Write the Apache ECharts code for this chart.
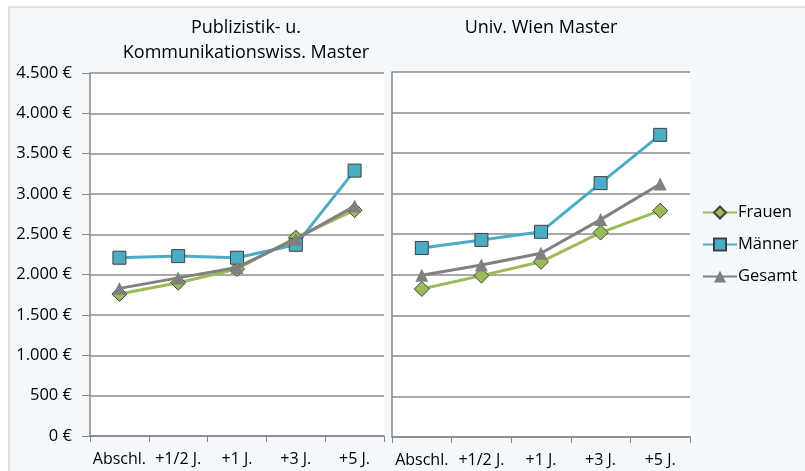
<!DOCTYPE html>
<html>
<head>
<meta charset="utf-8">
<script src="https://cdn.jsdelivr.net/npm/echarts@6/dist/echarts.min.js"></script>
<style>
  html, body { margin: 0; padding: 0; background: #fff; }
  #main { width: 805px; height: 471px; }
</style>
</head>
<body>
<div id="main"></div>
<script>
const categories = ['Abschl.', '+1/2 J.', '+1 J.', '+3 J.', '+5 J.']
const panelTitles = ['Publizistik- u.\nKommunikationswiss. Master', 'Univ. Wien Master']

// Publizistik- u. Kommunikationswiss. Master
const pkwFrauen = [1760, 1900, 2070, 2460, 2800]
const pkwMaenner = [2210, 2230, 2210, 2370, 3290]
const pkwGesamt = [1830, 1960, 2090, 2440, 2850]

// Univ. Wien Master
const uwFrauen = [1825, 1990, 2160, 2520, 2790]
const uwMaenner = [2330, 2430, 2530, 3130, 3725]
const uwGesamt = [1995, 2120, 2265, 2680, 3120]

const yMin = 0
const yMax = 4500
const yStep = 500

const font = '"Open Sans", sans-serif'
const colors = { Frauen: '#9bbb59', 'Männer': '#4bacc6', Gesamt: '#808080' }

function euro(v) {
  return String(v).replace(/\B(?=(\d{3})+(?!\d))/g, '.') + ' €'
}

function xAxis(idx) {
  return {
    type: 'category',
    gridIndex: idx,
    data: categories,
    boundaryGap: true,
    axisLine: { lineStyle: { color: '#868686', width: 1.5 } },
    axisTick: { show: true, interval: 0, length: 6, lineStyle: { color: '#868686' } },
    axisLabel: { interval: 0, hideOverlap: false, color: '#000', fontSize: 16, fontFamily: font, margin: 15 }
  }
}

function yAxis(idx, labels) {
  return {
    type: 'value',
    gridIndex: idx,
    min: yMin,
    max: yMax,
    interval: yStep,
    axisLine: { show: true, lineStyle: { color: '#868686', width: 1.5 } },
    axisTick: { show: labels, length: 8, lineStyle: { color: '#868686' } },
    axisLabel: { show: labels, color: '#000', fontSize: 16.5, fontFamily: font, margin: 18, formatter: euro },
    splitLine: { lineStyle: { color: '#8c8c8c', width: 1.5 } }
  }
}

function line(name, data, idx, symbol, size, border) {
  return {
    type: 'line',
    name: name,
    xAxisIndex: idx,
    yAxisIndex: idx,
    data: data,
    symbol: symbol,
    symbolSize: size,
    showAllSymbol: true,
    lineStyle: { color: colors[name], width: 3 },
    itemStyle: { color: colors[name], borderColor: border, borderWidth: border ? 1 : 0 },
    emphasis: { disabled: true },
    z: name === 'Gesamt' ? 4 : 3
  }
}

const myChart = echarts.init(document.getElementById('main'))
const option = {
  animation: false,
  backgroundColor: '#fff',
  textStyle: { fontFamily: font },
  graphic: [
    {
      type: 'rect',
      shape: { x: 9, y: 7, width: 800, height: 470 },
      style: { fill: '#f4f7fc', stroke: '#c8c8c8', lineWidth: 1 },
      z: -10
    },
    {
      type: 'rect',
      shape: { x: 90, y: 73, width: 294, height: 363 },
      style: { fill: '#fff' },
      z: -9
    },
    {
      type: 'rect',
      shape: { x: 392, y: 72, width: 298, height: 365 },
      style: { fill: '#fff' },
      z: -9
    },
    {
      type: 'text',
      x: 246, y: 15,
      style: { text: panelTitles[0], fill: '#000', font: '18px ' + font, align: 'center', lineHeight: 25 }
    },
    {
      type: 'text',
      x: 541, y: 15,
      style: { text: panelTitles[1], fill: '#000', font: '18px ' + font, align: 'center', lineHeight: 25 }
    }
  ],
  grid: [
    { left: 90, top: 73, width: 294, height: 363 },
    { left: 392, top: 72, width: 298, height: 365 }
  ],
  xAxis: [xAxis(0), xAxis(1)],
  yAxis: [yAxis(0, true), yAxis(1, false)],
  legend: {
    orient: 'vertical',
    left: 697,
    top: 199,
    itemWidth: 34,
    itemHeight: 15,
    itemGap: 15,
    textStyle: { color: '#000', fontSize: 16.5, fontFamily: font, padding: [0, 0, 0, -4] },
    data: ['Frauen', 'Männer', 'Gesamt']
  },
  series: [
    line('Frauen', pkwFrauen, 0, 'diamond', 15, '#404040'),
    line('Männer', pkwMaenner, 0, 'rect', 13, '#404040'),
    line('Gesamt', pkwGesamt, 0, 'triangle', 13, null),
    line('Frauen', uwFrauen, 1, 'diamond', 15, '#404040'),
    line('Männer', uwMaenner, 1, 'rect', 13, '#404040'),
    line('Gesamt', uwGesamt, 1, 'triangle', 13, null)
  ]
}
myChart.setOption(option)
</script>
</body>
</html>
